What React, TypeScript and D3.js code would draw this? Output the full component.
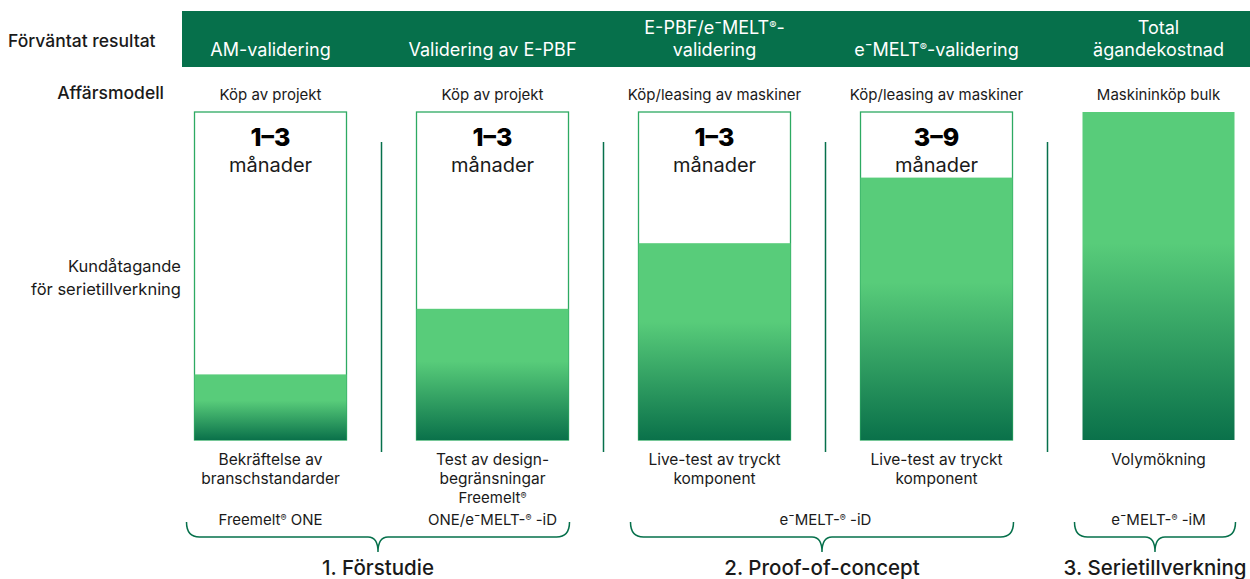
import { useEffect, useRef } from 'react';
import * as d3 from 'd3';

// Columns of the roadmap
const stageIds = ['am', 'epbf', 'mixed', 'emelt', 'tco'];
const expectedResults = [
  ['AM-validering'],
  ['Validering av E-PBF'],
  ['E-PBF/e⁻MELT®-', 'validering'],
  ['e⁻MELT®-validering'],
  ['Total', 'ägandekostnad'],
];
const businessModels = [
  'Köp av projekt',
  'Köp av projekt',
  'Köp/leasing av maskiner',
  'Köp/leasing av maskiner',
  'Maskininköp bulk',
];
const durations = ['1–3', '1–3', '1–3', '3–9', ''];
const commitment = [20, 40, 60, 80, 100];
const outcomes = [
  ['Bekräftelse av', 'branschstandarder'],
  ['Test av design-', 'begränsningar'],
  ['Live-test av tryckt', 'komponent'],
  ['Live-test av tryckt', 'komponent'],
  ['Volymökning'],
];
const machines = [
  { from: 0, to: 0, lines: ['Freemelt® ONE'] },
  { from: 1, to: 1, lines: ['Freemelt®', 'ONE/e⁻MELT-® -iD'] },
  { from: 2, to: 3, lines: ['e⁻MELT-® -iD'] },
  { from: 4, to: 4, lines: ['e⁻MELT-® -iM'] },
];
const phases = [
  { from: 0, to: 1, label: '1. Förstudie' },
  { from: 2, to: 3, label: '2. Proof-of-concept' },
  { from: 4, to: 4, label: '3. Serietillverkning' },
];

const FONT = 'Inter, "Noto Sans", sans-serif';
const DARK = '#06704b';
const LIGHT = '#58cc7a';
const TEXT = '#1a1a1a';

// splits a label on ® so the mark can be drawn small and raised
function addRich(sel: d3.Selection<SVGTextElement, unknown, null, undefined>, str: string) {
  const parts = str.split('®');
  parts.forEach((p, i) => {
    if (p) sel.append('tspan').text(p);
    if (i < parts.length - 1) {
      sel.append('tspan')
        .attr('font-size', '0.6em')
        .attr('baseline-shift', '45%')
        .text('®');
    }
  });
}

export default function App() {
  const ref = useRef<SVGSVGElement>(null);

  useEffect(() => {
    if (!ref.current) return;
    const svg = d3.select(ref.current);
    svg.selectAll('*').remove();

    const W = 1250;
    const barW = 152;
    const x = d3.scalePoint<string>().domain(stageIds).range([270.5, 1158.5]);
    const step = x.step();
    const y = d3.scaleLinear().domain([0, 100]).range([440, 112]);

    const defs = svg.append('defs');
    const grad = defs.append('linearGradient')
      .attr('id', 'fill-grad')
      .attr('x1', '0').attr('y1', '0')
      .attr('x2', '0').attr('y2', '1');
    grad.append('stop').attr('offset', '0%').attr('stop-color', LIGHT);
    grad.append('stop').attr('offset', '40%').attr('stop-color', LIGHT);
    grad.append('stop').attr('offset', '100%').attr('stop-color', '#0a714a');

    const g = svg.append('g').attr('font-family', FONT);

    // header band
    g.append('rect')
      .attr('x', 182).attr('y', 11)
      .attr('width', W - 182).attr('height', 56)
      .attr('fill', DARK);

    // row labels
    g.append('text')
      .attr('x', 8).attr('y', 47)
      .attr('font-size', 17.5).attr('font-weight', 500).attr('fill', TEXT)
      .text('Förväntat resultat');
    g.append('text')
      .attr('x', 164).attr('y', 99).attr('text-anchor', 'end')
      .attr('font-size', 17.5).attr('font-weight', 500).attr('fill', TEXT)
      .text('Affärsmodell');
    ['Kundåtagande', 'för serietillverkning'].forEach((t, i) => {
      g.append('text')
        .attr('x', 181).attr('y', 272 + i * 23).attr('text-anchor', 'end')
        .attr('font-size', 16.5).attr('fill', TEXT)
        .text(t);
    });

    stageIds.forEach((id, i) => {
      const cx = x(id)!;
      const x0 = cx - barW / 2;

      // header text
      const lines = expectedResults[i];
      lines.forEach((t, j) => {
        const ty = lines.length === 1 ? 56 : 34 + j * 22;
        const txt = g.append('text')
          .attr('x', cx).attr('y', ty).attr('text-anchor', 'middle')
          .attr('font-size', 18).attr('fill', '#fff');
        addRich(txt, t);
      });

      g.append('text')
        .attr('x', cx).attr('y', 100).attr('text-anchor', 'middle')
        .attr('font-size', 15).attr('fill', TEXT)
        .text(businessModels[i]);

      // bar box + fill
      if (commitment[i] < 100) {
        g.append('rect')
          .attr('x', x0).attr('y', y(100))
          .attr('width', barW).attr('height', y(0) - y(100))
          .attr('fill', '#fff')
          .attr('stroke', '#2daa62').attr('stroke-width', 1.3);
      }
      g.append('rect')
        .attr('x', x0).attr('y', y(commitment[i]))
        .attr('width', barW).attr('height', y(0) - y(commitment[i]))
        .attr('fill', 'url(#fill-grad)');

      if (durations[i]) {
        g.append('text')
          .attr('x', cx).attr('y', 146).attr('text-anchor', 'middle')
          .attr('font-size', 25).attr('font-weight', 800).attr('fill', '#000')
          .text(durations[i]);
        g.append('text')
          .attr('x', cx).attr('y', 172).attr('text-anchor', 'middle')
          .attr('font-size', 20).attr('fill', TEXT)
          .text('månader');
      }

      outcomes[i].forEach((t, j) => {
        g.append('text')
          .attr('x', cx).attr('y', 465 + j * 19).attr('text-anchor', 'middle')
          .attr('font-size', 15.5).attr('fill', TEXT)
          .text(t);
      });

      // divider to next column
      if (i < stageIds.length - 1) {
        const dx = cx + step / 2;
        g.append('line')
          .attr('x1', dx).attr('x2', dx)
          .attr('y1', 142).attr('y2', 452)
          .attr('stroke', DARK).attr('stroke-width', 1.5);
      }
    });

    // machine labels
    machines.forEach(m => {
      const cx = (x(stageIds[m.from])! + x(stageIds[m.to])!) / 2;
      m.lines.forEach((t, j) => {
        const ty = 525 - (m.lines.length - 1 - j) * 22;
        const txt = g.append('text')
          .attr('x', cx).attr('y', ty).attr('text-anchor', 'middle')
          .attr('font-size', 15).attr('fill', TEXT);
        addRich(txt, t);
      });
    });

    // braces + phase labels
    const yTop = 522, yMid = 537, yTip = 552, r = 13, r2 = 10;
    phases.forEach(p => {
      const a = x(stageIds[p.from])! - barW / 2 - 8;
      const b = x(stageIds[p.to])! + barW / 2 + 1;
      const m = (a + b) / 2;
      const path = d3.path();
      path.moveTo(a, yTop);
      path.quadraticCurveTo(a, yMid, a + r, yMid);
      path.lineTo(m - r2, yMid);
      path.quadraticCurveTo(m, yMid, m, yTip);
      path.quadraticCurveTo(m, yMid, m + r2, yMid);
      path.lineTo(b - r, yMid);
      path.quadraticCurveTo(b, yMid, b, yTop);
      g.append('path')
        .attr('d', path.toString())
        .attr('fill', 'none')
        .attr('stroke', DARK).attr('stroke-width', 1.5);
      g.append('text')
        .attr('x', m).attr('y', 575).attr('text-anchor', 'middle')
        .attr('font-size', 20.5).attr('font-weight', 500).attr('fill', TEXT)
        .text(p.label);
    });
  }, []);

  return (
    <svg
      ref={ref}
      width={1250}
      height={579}
      style={{ position: 'absolute', left: 0, top: 0, background: '#fff' }}
    />
  );
}
